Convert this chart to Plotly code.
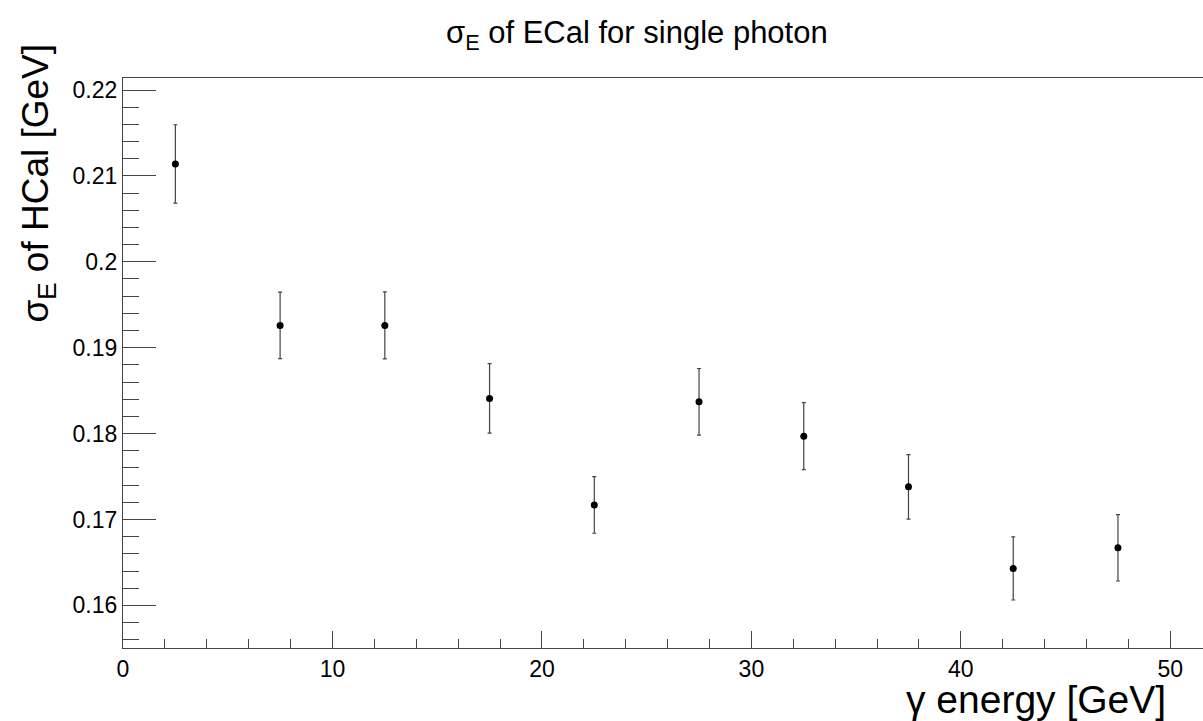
import plotly.graph_objects as go

# ---- data ----
energy = [2.5, 7.5, 12.5, 17.5, 22.5, 27.5, 32.5, 37.5, 42.5, 47.5]
sigma_e = [0.2114, 0.1926, 0.1926, 0.1841, 0.1717, 0.1837, 0.1797, 0.1738, 0.1643, 0.1667]
sigma_err = [0.00456, 0.00388, 0.0039, 0.00405, 0.0033, 0.00388, 0.0039, 0.00376, 0.00367, 0.00386]

x_tickvals = [0, 10, 20, 30, 40, 50]
x_ticktext = ["0", "10", "20", "30", "40", "50"]
y_tickvals = [0.16, 0.17, 0.18, 0.19, 0.20, 0.21, 0.22]
y_ticktext = ["0.16", "0.17", "0.18", "0.19", "0.2", "0.21", "0.22"]

FONT = "Liberation Sans, Arial, Helvetica, sans-serif"

fig = go.Figure()
fig.add_trace(go.Scatter(
    x=energy, y=sigma_e,
    mode="markers",
    marker=dict(color="black", size=7, symbol="circle"),
    error_y=dict(type="data", array=sigma_err, visible=True,
                 color="#444444", thickness=1.2, width=2),
    showlegend=False,
))

fig.update_layout(
    width=1203, height=721,
    margin=dict(l=123, r=0, t=78, b=73),
    paper_bgcolor="white", plot_bgcolor="white",
    font=dict(family=FONT, color="black"),
    showlegend=False,
)

fig.update_xaxes(
    range=[0, 51.56], showgrid=False, zeroline=False,
    showline=True, linecolor="#444444", linewidth=1.2, mirror=True,
    ticks="inside", ticklen=17, tickwidth=1, tickcolor="#444444",
    tickvals=x_tickvals, ticktext=x_ticktext,
    tickfont=dict(size=23, family=FONT, color="black"),
    minor=dict(ticks="inside", ticklen=9, dtick=2, tick0=0,
               tickcolor="#444444", tickwidth=1, showgrid=False),
)
fig.update_yaxes(
    range=[0.15504, 0.2214], showgrid=False, zeroline=False,
    showline=True, linecolor="#444444", linewidth=1.2, mirror=False,
    ticks="inside", ticklen=33, tickwidth=1, tickcolor="#444444",
    tickvals=y_tickvals, ticktext=y_ticktext,
    tickfont=dict(size=23, family=FONT, color="black"),
    minor=dict(ticks="inside", ticklen=16, dtick=0.002, tick0=0.16,
               tickcolor="#444444", tickwidth=1, showgrid=False),
)

fig.add_annotation(
    text="σ<sub>E</sub> of ECal for single photon",
    xref="paper", yref="paper", x=0.476, y=1.0754,
    xanchor="center", yanchor="middle", showarrow=False,
    font=dict(size=31, family=FONT, color="black"),
)
fig.add_annotation(
    text="σ<sub>E</sub> of HCal [GeV]",
    xref="paper", yref="paper", x=-0.0787, y=1.063,
    xanchor="center", yanchor="top", textangle=-90, showarrow=False,
    font=dict(size=37, family=FONT, color="black"),
)
fig.add_annotation(
    text="γ energy [GeV]",
    xref="paper", yref="paper", x=0.9676, y=-0.0895,
    xanchor="right", yanchor="middle", showarrow=False,
    font=dict(size=39, family=FONT, color="black"),
)

fig.write_html("out.html")
